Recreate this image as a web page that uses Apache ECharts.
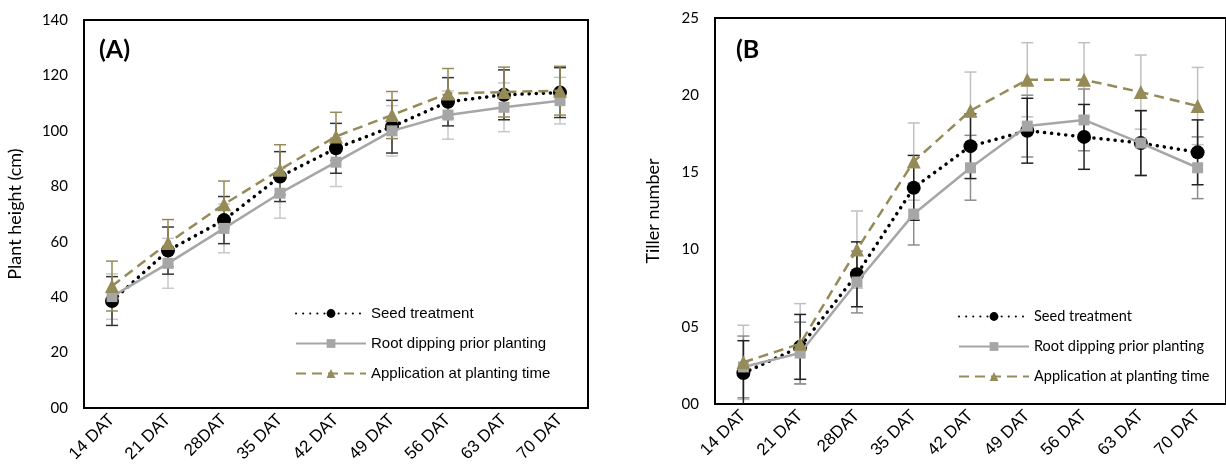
<!DOCTYPE html>
<html>
<head>
<meta charset="utf-8">
<script src="https://cdn.jsdelivr.net/npm/echarts@6/dist/echarts.min.js"></script>
<style>
  html, body { margin: 0; padding: 0; background: #fff; }
  #chart { width: 1226px; height: 475px; }
</style>
</head>
<body>
<div id="chart"></div>
<script>
// sampling days
const days = ['14 DAT', '21 DAT', '28DAT', '35 DAT', '42 DAT', '49 DAT', '56 DAT', '63 DAT', '70 DAT']
const seriesNames = ['Seed treatment', 'Root dipping prior planting', 'Application at planting time']

// (A) plant height, cm
const heightSeed = [38.6, 56.8, 67.8, 83.5, 93.7, 101.5, 110.5, 113, 113.8]
const heightRoot = [40.2, 52.2, 64.8, 77.5, 88.7, 100, 105.7, 108.5, 110.9]
const heightAppl = [44, 59.5, 73.5, 86, 98, 105.7, 113.5, 114, 114.5]
const heightSeedErr = [8.8, 8.5, 8.5, 9, 9, 9.5, 8.7, 9, 9]
const heightRootErr = [8.2, 9, 8.8, 9, 8.8, 9.1, 8.7, 8.8, 8.4]
const heightApplErr = [9, 8.5, 8.4, 9, 8.7, 8.5, 9, 9, 8.8]

// (B) tiller number
const tillerSeed = [2.0, 3.7, 8.4, 14.0, 16.7, 17.7, 17.3, 16.9, 16.3]
const tillerRoot = [2.4, 3.3, 7.9, 12.3, 15.3, 18.0, 18.4, 16.9, 15.3]
const tillerAppl = [2.7, 3.9, 10.0, 15.7, 19.0, 21.0, 21.0, 20.2, 19.3]
const tillerSeedErr = [2.1, 2.1, 2.1, 2.1, 2.1, 2.1, 2.1, 2.1, 2.1]
const tillerRootErr = [2.0, 2.0, 2.0, 2.0, 2.1, 2.0, 2.0, 2.1, 2.0]
const tillerApplErr = [2.4, 2.6, 2.5, 2.5, 2.5, 2.4, 2.4, 2.4, 2.5]

const olive = '#958b58'
const grey = '#a6a6a6'

const myChart = echarts.init(document.getElementById('chart'))

// error bar drawn with the axis scales
function errorBar(color) {
  return function(params, api) {
    const x = api.value(0)
    const y = api.value(1)
    const e = api.value(2)
    const hi = api.coord([x, y + e])
    const lo = api.coord([x, y - e])
    const w = 6
    const st = { stroke: color, lineWidth: 1.5 }
    return {
      type: 'group',
      children: [
        { type: 'line', shape: { x1: hi[0], y1: hi[1], x2: lo[0], y2: lo[1] }, style: st },
        { type: 'line', shape: { x1: hi[0] - w, y1: hi[1], x2: hi[0] + w, y2: hi[1] }, style: st },
        { type: 'line', shape: { x1: lo[0] - w, y1: lo[1], x2: lo[0] + w, y2: lo[1] }, style: st }
      ]
    }
  }
}

function errSeries(idx, vals, errs, color) {
  return {
    name: 'err' + idx + color,
    type: 'custom',
    xAxisIndex: idx,
    yAxisIndex: idx,
    clip: true,
    z: 1,
    renderItem: errorBar(color),
    data: vals.map((v, i) => [i, v, errs[i]])
  }
}

function lineSeries(idx, k, vals) {
  const styles = [
    { color: '#000', symbol: 'circle', symbolSize: 14, lineStyle: { color: '#000', width: 3.5, type: [0.1, 7], cap: 'round' } },
    { color: grey, symbol: 'rect', symbolSize: 11, lineStyle: { color: grey, width: 2.5, type: 'solid' } },
    { color: olive, symbol: 'triangle', symbolSize: 14, lineStyle: { color: olive, width: 2.5, type: [10, 6] } }
  ]
  const s = styles[k]
  return {
    name: seriesNames[k],
    type: 'line',
    xAxisIndex: idx,
    yAxisIndex: idx,
    symbol: s.symbol,
    symbolSize: s.symbolSize,
    itemStyle: { color: s.color, opacity: 1 },
    lineStyle: s.lineStyle,
    z: 3 + k,
    data: vals
  }
}

function pad2(v) {
  return String(v).padStart(2, '0')
}

const xAxisCommon = {
  type: 'category',
  data: days,
  boundaryGap: true,
  axisLine: { lineStyle: { color: '#000', width: 2 } },
  axisTick: { show: false },
  axisLabel: { rotate: 45, margin: 9, color: '#000', fontFamily: 'Liberation Sans', fontSize: 17 }
}

const yAxisCommon = {
  type: 'value',
  min: 0,
  splitLine: { show: false },
  axisLine: { show: true, lineStyle: { color: '#000', width: 2 } },
  axisTick: { show: false },
  nameLocation: 'middle',
  nameTextStyle: { color: '#000', fontFamily: 'Lato', fontSize: 18 },
  axisLabel: { color: '#000', fontFamily: 'Lato', fontSize: 15, margin: 16, formatter: pad2 }
}

const legendCommon = {
  orient: 'vertical',
  itemWidth: 70,
  itemHeight: 11,
  itemGap: 15,
  data: seriesNames
}

myChart.setOption({
  animation: false,
  backgroundColor: '#fff',
  title: [
    { text: '(A)', left: 94, top: 32, textStyle: { fontFamily: 'Lato', fontWeight: 'bold', fontSize: 25, color: '#000' } },
    { text: '(B', left: 731, top: 32, textStyle: { fontFamily: 'Lato', fontWeight: 'bold', fontSize: 25, color: '#000' } }
  ],
  grid: [
    { left: 84, top: 20, width: 504, height: 388, show: true, borderColor: '#000', borderWidth: 2 },
    { left: 715, top: 18, width: 517, height: 386, show: true, borderColor: '#000', borderWidth: 2 }
  ],
  legend: [
    Object.assign({}, legendCommon, {
      left: 290, top: 301,
      textStyle: { color: '#000', fontFamily: 'Liberation Sans', fontSize: 15 }
    }),
    Object.assign({}, legendCommon, {
      left: 953, top: 304,
      textStyle: { color: '#000', fontFamily: 'Lato', fontSize: 14.5 }
    })
  ],
  xAxis: [
    Object.assign({}, xAxisCommon, { gridIndex: 0 }),
    Object.assign({}, xAxisCommon, { gridIndex: 1 })
  ],
  yAxis: [
    Object.assign({}, yAxisCommon, { gridIndex: 0, max: 140, interval: 20, name: 'Plant height (cm)', nameGap: 60 }),
    Object.assign({}, yAxisCommon, { gridIndex: 1, max: 25, interval: 5, name: 'Tiller number', nameGap: 53 })
  ],
  series: [
    errSeries(0, heightRoot, heightRootErr, '#c8c8c8'),
    errSeries(0, heightSeed, heightSeedErr, '#333'),
    errSeries(0, heightAppl, heightApplErr, olive),
    lineSeries(0, 0, heightSeed),
    lineSeries(0, 1, heightRoot),
    lineSeries(0, 2, heightAppl),
    errSeries(1, tillerAppl, tillerApplErr, '#c0c0c0'),
    errSeries(1, tillerRoot, tillerRootErr, '#8c8c8c'),
    errSeries(1, tillerSeed, tillerSeedErr, '#222'),
    lineSeries(1, 0, tillerSeed),
    lineSeries(1, 1, tillerRoot),
    lineSeries(1, 2, tillerAppl)
  ]
})
</script>
</body>
</html>
